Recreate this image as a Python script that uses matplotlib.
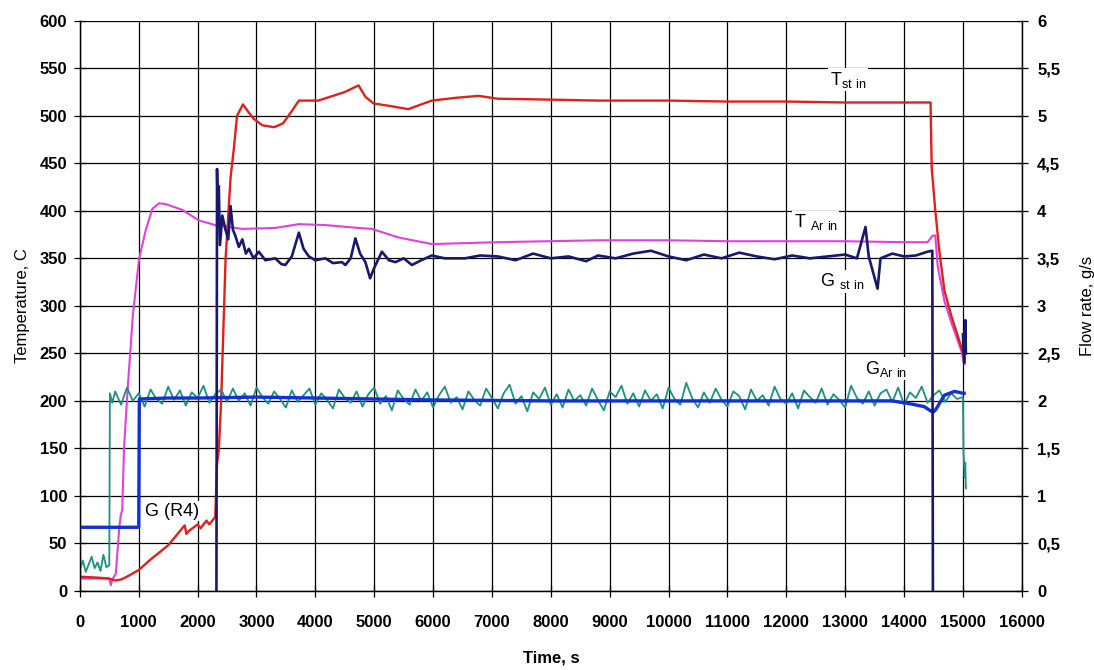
import numpy as np
import matplotlib
matplotlib.use('Agg')
import matplotlib.pyplot as plt
from matplotlib.ticker import FuncFormatter

plt.rcParams['font.family'] = ['Liberation Sans', 'DejaVu Sans']
plt.rcParams['font.weight'] = 'bold'

# T st in, C
t_st_time = [0, 300, 500, 600, 700, 800, 1000, 1200, 1500, 1780, 1810, 1850, 2000, 2050,
             2150, 2200, 2300, 2330, 2360, 2400, 2475, 2560, 2615, 2670, 2770, 2850, 2950,
             3100, 3300, 3450, 3600, 3720, 4050, 4300, 4500, 4734, 4850, 4990, 5300, 5580,
             5800, 5980, 6400, 6770, 7100, 8000, 8800, 10000, 11000, 12000, 13000, 14000,
             14450, 14470, 14525, 14600, 14686, 14800, 14914, 15000, 15030]
t_st = [15, 14, 13, 11, 12, 15, 22, 33, 48, 69, 60, 63, 70, 66,
        74, 70, 78, 134, 148, 200, 349, 435, 465, 500, 512, 505, 497,
        490, 488, 492, 505, 516, 516, 521, 525, 532, 520, 513, 510, 507,
        512, 516, 519, 521, 518, 517, 516, 516, 515, 515, 514, 514,
        514, 445, 404, 357, 316, 290, 268, 251, 245]

# T Ar in, C
t_ar_time = [0, 300, 500, 525, 550, 610, 670, 695, 720, 750, 808, 900, 1005, 1120, 1230,
             1345, 1460, 1740, 2020, 2300, 2760, 3320, 3720, 4170, 4730, 4960, 5410, 5980,
             7100, 8800, 10000, 11000, 12000, 13000, 14000, 14400, 14486, 14530, 14571,
             14686, 14800, 14971, 15030]
t_ar = [13, 13, 13, 6, 12, 18, 67, 80, 85, 150, 209, 290, 349, 380, 402,
        408, 407, 401, 390, 385, 381, 382, 386, 385, 382, 381, 372, 365,
        367, 369, 369, 368, 368, 368, 367, 367, 374, 374, 342,
        305, 283, 253, 239]

# G st in, g/s (gap while the flow is off)
g_st_time = [2320, 2330, 2345, 2360, 2380, 2420, 2470, 2520, 2560, 2600, 2640, 2700, 2760,
             2820, 2870, 2950, 3040, 3150, 3320, 3420, 3490, 3600, 3720, 3800, 3890, 4000,
             4170, 4300, 4450, 4510, 4600, 4680, 4760, 4850, 4930, 5000, 5130, 5250, 5360,
             5500, 5640, 5800, 5980, 6200, 6540, 6800, 7100, 7400, 7700, 8000, 8300, 8600,
             8800, 9100, 9400, 9700, 10000, 10300, 10600, 10900, 11200, 11500, 11800, 12100,
             12400, 12700, 13000, 13200, 13345, 13400, 13550, 13600, 13800, 14000, 14200,
             14400, 14480, 14490, 14990, 15000, 15020, 15040, 15050]
g_st = [0, 4.44, 3.90, 4.26, 3.64, 3.95, 3.81, 3.70, 4.05, 3.80, 3.74, 3.62, 3.70,
        3.55, 3.60, 3.50, 3.57, 3.48, 3.50, 3.44, 3.43, 3.52, 3.77, 3.60, 3.52, 3.48,
        3.50, 3.45, 3.46, 3.43, 3.50, 3.71, 3.55, 3.46, 3.29, 3.40, 3.57, 3.48, 3.46,
        3.50, 3.43, 3.48, 3.53, 3.50, 3.50, 3.53, 3.52, 3.48, 3.55, 3.50, 3.52, 3.47,
        3.53, 3.50, 3.55, 3.58, 3.52, 3.48, 3.54, 3.50, 3.56, 3.52, 3.49, 3.53,
        3.50, 3.52, 3.54, 3.50, 3.83, 3.52, 3.18, 3.50, 3.55, 3.52, 3.53,
        3.57, 3.58, 0, np.nan, 2.70, 2.40, 2.85, 2.50]

# G Ar in, g/s
g_ar_time = ([0, 50, 100, 150, 200, 250, 300, 350, 400, 450, 500, 510, 550]
             + list(range(600, 15001, 100)) + [15010, 15030, 15040, 15050])
g_ar = [0.22, 0.32, 0.20, 0.28, 0.36, 0.24, 0.30, 0.21, 0.38, 0.25, 0.27, 2.08, 1.98,
        2.10, 1.96, 2.14, 2.00, 2.08, 1.94, 2.12, 2.02, 1.97, 2.15,
        2.01, 2.11, 1.95, 2.09, 2.03, 2.16, 1.98, 2.07, 2.12, 1.99,
        2.13, 2.00, 2.08, 1.95, 2.14, 2.04, 1.97, 2.10, 2.02, 1.93,
        2.11, 1.99, 2.06, 2.13, 1.96, 2.08, 2.01, 1.92, 2.12, 2.03,
        1.98, 2.10, 1.94, 2.07, 2.14, 1.97, 2.05, 1.90, 2.11, 2.02,
        1.96, 2.12, 2.00, 2.09, 1.93, 2.06, 2.15, 1.98, 2.04, 1.91,
        2.10, 2.01, 1.95, 2.13, 2.03, 1.92, 2.08, 2.17, 1.97, 2.05,
        1.89, 2.09, 2.02, 2.14, 1.96, 2.07, 1.93, 2.12, 2.00, 2.06,
        1.95, 2.13, 2.01, 1.90, 2.10, 2.04, 2.16, 1.97, 2.08, 1.94,
        2.11, 2.00, 2.07, 1.92, 2.14, 2.02, 1.96, 2.19, 2.03, 1.93,
        2.09, 1.98, 2.13, 2.01, 1.94, 2.10, 2.05, 1.91, 2.12, 2.00,
        2.06, 1.95, 2.15, 2.02, 1.97, 2.08, 1.92, 2.11, 2.04, 1.98,
        2.13, 1.96, 2.07, 2.01, 1.93, 2.16, 2.03, 1.97, 2.10, 1.95,
        2.08, 2.12, 1.99, 2.14, 1.96, 2.09, 2.03, 2.15, 1.98, 2.06,
        2.11, 1.99, 2.08, 2.02, 2.04,
        1.45, 1.20, 1.35, 1.08]

# G (R4), g/s
g_r4_time = [0, 500, 1000, 1010, 1500, 2000, 3000, 4000, 5000, 6000, 8000, 10000, 12000,
             13800, 14100, 14340, 14490, 14540, 14686, 14857, 15000, 15020]
g_r4 = [0.67, 0.67, 0.67, 2.02, 2.03, 2.03, 2.04, 2.03, 2.02, 2.01, 2.00, 2.00, 2.00,
        2.00, 1.97, 1.94, 1.88, 1.91, 2.06, 2.10, 2.08, 2.08]

fig = plt.figure(figsize=(10.94, 6.70), dpi=100)
ax = fig.add_axes([0.073, 0.118, 0.861, 0.851])
ax2 = ax.twinx()

ax.plot(t_ar_time, t_ar, color='#e040e0', lw=1.5)
ax.plot(t_st_time, t_st, color='#e0201a', lw=1.7)
ax2.plot(g_ar_time, g_ar, color='#1a9282', lw=1.3)
ax2.plot(g_r4_time, g_r4, color='#1030d8', lw=2.4)
ax2.plot(g_st_time, g_st, color='#18186e', lw=1.9)

ax.set_xlim(0, 16000)
ax.set_ylim(0, 600)
ax2.set_ylim(0, 6)
ax.set_xticks(np.arange(0, 16001, 1000))
ax.set_yticks(np.arange(0, 601, 50))
ax2.set_yticks(np.arange(0, 6.01, 0.5))
ax2.yaxis.set_major_formatter(FuncFormatter(lambda v, p: ('%g' % v).replace('.', ',')))

ax.grid(True, color='black', lw=0.9)
ax.set_axisbelow(True)
for a in (ax, ax2):
    a.tick_params(direction='inout', length=8, width=0.9, labelsize=12)
    for s in a.spines.values():
        s.set_linewidth(0.9)
ax.tick_params(axis='y', pad=5)
ax2.tick_params(axis='y', pad=7)
ax.tick_params(axis='x', pad=13)
ax2.spines['top'].set_visible(False)
ax.spines['top'].set_visible(False)

ax.set_xlabel('Time, s', fontsize=12, fontweight='bold', labelpad=15)
ax.set_ylabel('Temperature, C', fontsize=12, fontweight='normal', labelpad=7)
ax2.set_ylabel('Flow rate, g/s', fontsize=12, fontweight='normal', labelpad=14)

box = dict(facecolor='white', edgecolor='none', pad=1)
kw = dict(fontsize=13, fontweight='normal', ha='center', va='center', bbox=box)
ax.text(13050, 538, r'T$_{\mathregular{st\ in}}$', **kw)
ax.text(12500, 388, r'T $_{\mathregular{Ar\ in}}$', **kw)
ax.text(12950, 326, r'G $_{\mathregular{st\ in}}$', **kw)
ax.text(13700, 234, r'G$_{\mathregular{Ar\ in}}$', **kw)
ax.text(1570, 84, 'G (R4)', **kw)

fig.savefig('out.png', dpi=100)
